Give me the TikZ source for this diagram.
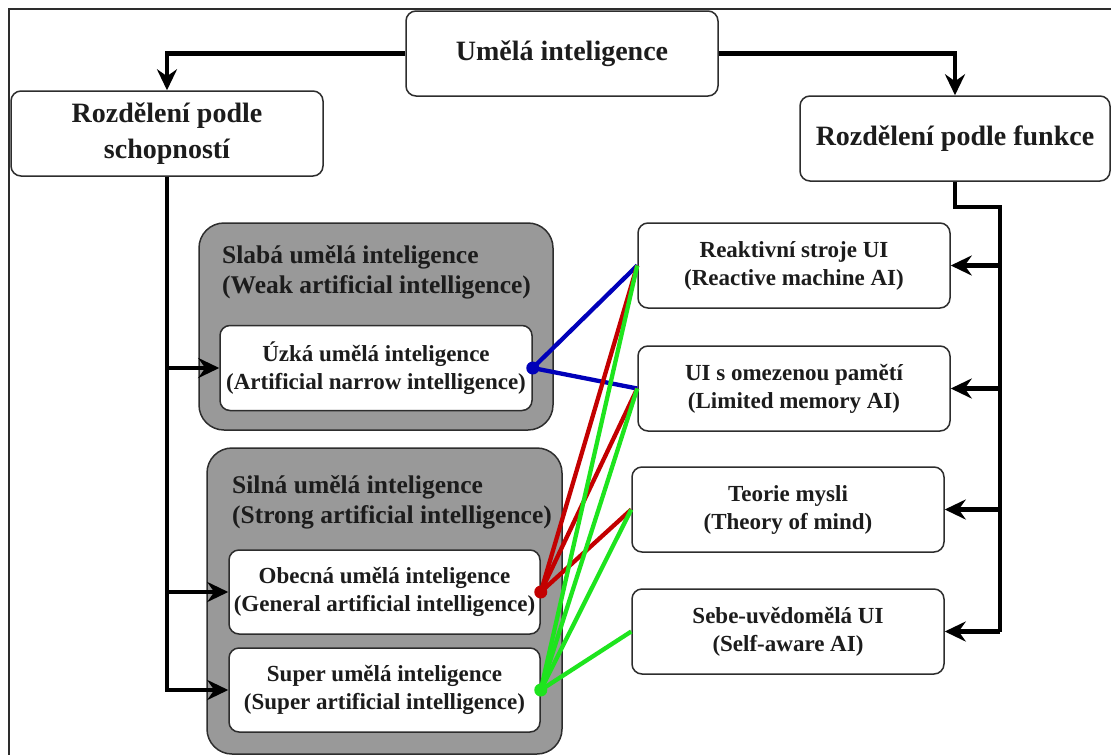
\documentclass[tikz,border=0pt]{standalone}
\usepackage{fontspec}
\setmainfont{Liberation Serif}
\usetikzlibrary{arrows.meta}

\definecolor{ink}{RGB}{28,28,28}
\definecolor{edge}{RGB}{45,45,45}
\definecolor{groupfill}{RGB}{153,153,153}
\definecolor{linkblue}{RGB}{0,0,185}
\definecolor{linkred}{RGB}{195,0,0}
\definecolor{linkgreen}{RGB}{30,228,30}

\tikzset{
  box/.style={draw=edge, line width=1.5pt, rounded corners=10pt, fill=white,
    minimum width=312pt, minimum height=85pt, inner sep=0pt, align=center,
    text=ink, font=\bfseries\fontsize{23}{28}\selectfont},
  mainbox/.style={box, font=\bfseries\fontsize{28}{36}\selectfont},
  groupbox/.style={draw=edge, line width=1.5pt, rounded corners=25pt, fill=groupfill},
  grouptitle/.style={anchor=north west, inner sep=0pt, align=left, text=ink,
    font=\bfseries\fontsize{25.5}{30.5}\selectfont},
  arr/.style={line width=4.2pt, draw=black,
    -{Stealth[length=21pt,width=20pt,inset=7pt]}},
  busline/.style={line width=4.2pt, draw=black},
  link/.style={line width=4.3pt},
  joint/.style={circle, inner sep=0pt, minimum size=13pt},
  frameline/.style={line width=2pt, draw=edge}
}

\begin{document}
\begin{tikzpicture}[x=1pt, y=-1pt]
\useasboundingbox (0,0) rectangle (1111,755);

% outer frame (only top and left edges fall inside the page)
\draw[frameline] (1111,9) -- (9,9) -- (9,755);

% grey groups
\draw[groupbox] (199,223) rectangle (553,430);
\node[grouptitle] (weakT) at (222,245) {Slabá umělá inteligence\\(Weak artificial intelligence)};
\draw[groupbox] (207,448) rectangle (562,754);
\node[grouptitle] (strongT) at (232,475) {Silná umělá inteligence\\(Strong artificial intelligence)};

% top level
\node[mainbox] (ai) at (562,53.5) {Umělá inteligence};
\node[mainbox] (abil) at (167,133.5) {Rozdělení podle\\schopností};
\node[mainbox, minimum width=310pt] (func) at (955,138.5) {Rozdělení podle funkce};

% classification by capability
\node[box] (narrow) at (376,368) {Úzká umělá inteligence\\(Artificial narrow intelligence)};
\node[box, minimum width=311pt, minimum height=84pt] (general) at (384.5,592) {Obecná umělá inteligence\\(General artificial intelligence)};
\node[box, minimum width=311pt, minimum height=84pt] (super) at (384.5,690) {Super umělá inteligence\\(Super artificial intelligence)};

% classification by function
\node[box] (react) at (794,265.5) {Reaktivní stroje UI\\(Reactive machine AI)};
\node[box] (limited) at (794,388.5) {UI s omezenou pamětí\\(Limited memory AI)};
\node[box] (mind) at (788,509.5) {Teorie mysli\\(Theory of mind)};
\node[box] (self) at (788,631.5) {Sebe-uvědomělá UI\\(Self-aware AI)};

% hierarchy arrows
\draw[arr] (ai.west) -| (abil.north);
\draw[arr] (ai.east) -| (func.north);

\draw[arr] (abil.south) |- (super.west);
\draw[arr] (abil.south |- narrow.west) -- (narrow.west);
\draw[arr] (abil.south |- general.west) -- (general.west);

\coordinate (busTop) at (1000,207);
\draw[busline] (func.south) |- (busTop) -- (busTop |- self.east);
\draw[arr] (busTop |- react.east) -- (react.east);
\draw[arr] (busTop |- limited.east) -- (limited.east);
\draw[arr] (busTop |- mind.east) -- (mind.east);
\draw[arr] (busTop |- self.east) -- (self.east);

% correspondence links
\draw[link, draw=linkblue] (narrow.east) -- (react.west);
\draw[link, draw=linkblue] (narrow.east) -- (limited.west);

\draw[link, draw=linkred] (general.east) -- (react.west);
\draw[link, draw=linkred] (general.east) -- (limited.west);
\draw[link, draw=linkred] (general.east) -- (mind.west);

\draw[link, draw=linkgreen] (super.east) -- (react.west);
\draw[link, draw=linkgreen] (super.east) -- (limited.west);
\draw[link, draw=linkgreen] (super.east) -- (mind.west);
\draw[link, draw=linkgreen] (super.east) -- (self.west);

\node[joint, fill=linkblue] (dotN) at (narrow.east) {};
\node[joint, fill=linkred] (dotG) at (general.east) {};
\node[joint, fill=linkgreen] (dotS) at (super.east) {};
\end{tikzpicture}
\end{document}
